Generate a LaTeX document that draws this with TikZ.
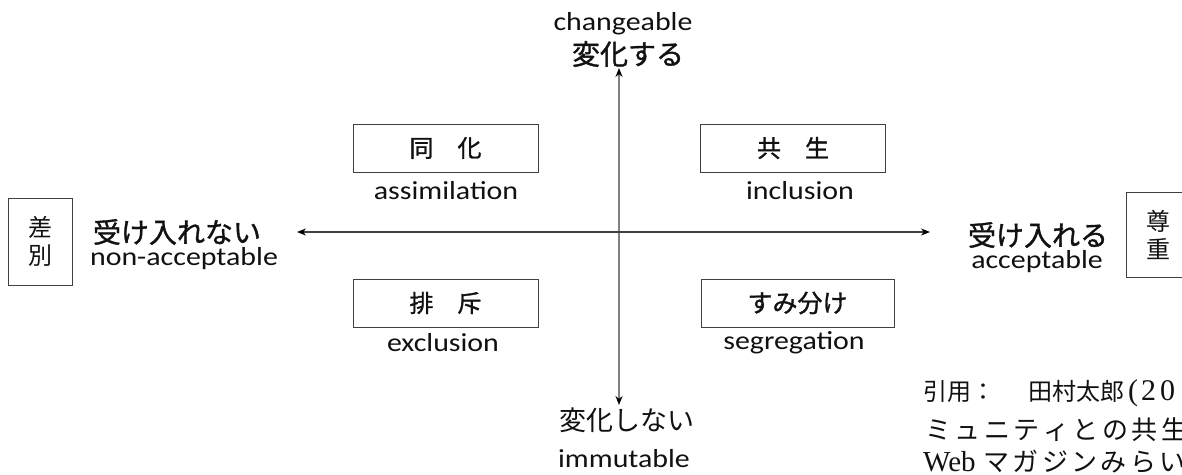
\documentclass[tikz,border=0pt]{standalone}
\usepackage{fontspec}
\usepackage{graphicx}
\usetikzlibrary{arrows.meta}
\setmainfont{Carlito}
\newfontfamily\jp{Noto Sans CJK JP}
\newfontfamily\jpb[FakeBold=1.2]{Noto Sans CJK JP}
\newfontfamily\lser{Liberation Serif}
\definecolor{boxc}{HTML}{404040}
\definecolor{vaxis}{HTML}{808080}
\definecolor{haxis}{HTML}{404040}
\definecolor{txt}{HTML}{111111}
\newcommand\lat[1]{\scalebox{1.15}[1]{\fontsize{26}{28}\selectfont #1}}
\begin{document}
\begin{tikzpicture}[x=1pt,y=-1pt,
  qbox/.style={draw=boxc, line width=1pt, minimum height=48pt, inner sep=0pt, text=txt, font=\jpb\fontsize{24}{24}\selectfont},
  sidebox/.style={draw=boxc, line width=1pt, inner sep=0pt, align=center, text=txt, font=\jp\fontsize{24}{28}\selectfont},
  lbl/.style={inner sep=0pt, text=txt},
  jhead/.style={inner sep=0pt, text=txt, font=\jpb\fontsize{28}{28}\selectfont},
  cite/.style={inner sep=0pt, anchor=west, text=txt, font=\jp\fontsize{24}{24}\selectfont},
  axisline/.style={line width=1.2pt, {Stealth[length=9pt,width=7pt,color=black]}-{Stealth[length=9pt,width=7pt,color=black]}}
]
\useasboundingbox (0,0) rectangle (1182,474);
\fill[white] (0,0) rectangle (1182,474);

% axes
\coordinate (vtop) at (619,68);
\coordinate (vbot) at (619,405);
\coordinate (hleft) at (297,232);
\coordinate (hright) at (930,232);
\draw[axisline, draw=vaxis] (vbot) -- (vtop);
\draw[axisline, draw=haxis] (hleft) -- (hright);

% top / bottom labels
\node[lbl] (chg) at (623,24) {\lat{changeable}};
\node[jhead] (henka) at (628,54) {変化する};
\node[lbl, font=\jp\fontsize{27}{27}\selectfont] (henkanai) at (627,420) {変化しない};
\node[lbl] (immut) at (624,459) {\lat{immutable}};

% left / right labels
\node[jhead] (ukenai) at (177,232) {受け入れない};
\node[lbl] (nonacc) at (184,259) {\lat{non-acceptable}};
\node[jhead] (ukeru) at (1038,235) {受け入れる};
\node[lbl] (acc) at (1037,262) {\lat{acceptable}};

% side boxes
\node[sidebox, minimum width=64pt, minimum height=87pt] (sabetsu) at (40,241.5) {差\\別};
\node[sidebox, minimum width=64pt, minimum height=85pt] (sonchou) at (1158,234.5) {尊\\重};

% quadrant boxes
\node[qbox, minimum width=185pt] (douka) at (445.5,148) {同　化};
\node[lbl] (assim) at (446,191) {\lat{assimilation}};
\node[qbox, minimum width=185pt] (kyousei) at (793,148) {共　生};
\node[lbl] (incl) at (800,191) {\lat{inclusion}};
\node[qbox, minimum width=185pt] (haiseki) at (445.5,303) {排　斥};
\node[lbl] (excl) at (443,343) {\lat{exclusion}};
\node[qbox, minimum width=193pt, font=\jpb\fontsize{25}{25}\selectfont] (sumiwake) at (797.5,303) {すみ分け};
\node[lbl] (segr) at (794,343) {\lat{segregation}};

% citation (cut off at the right edge, as in the reference)
\node[cite] (cite1) at (923,393) {\makebox[105pt][l]{引用：}田村太郎\hspace{4pt}{\lser\fontsize{30}{30}\selectfont (\hspace{3pt}2\hspace{4pt}0}};
\node[cite, font=\jp\fontsize{26}{26}\selectfont] (cite2) at (925,430) {ミ\hspace{3.5pt}ュ\hspace{3.5pt}ニ\hspace{3.5pt}テ\hspace{3.5pt}ィ\hspace{3.5pt}と\hspace{3.5pt}の\hspace{3.5pt}共\hspace{3.5pt}生};
\node[cite, font=\jp\fontsize{26}{26}\selectfont] (cite3) at (923,462) {{\lser\fontsize{29}{29}\selectfont Web}\hspace{8pt}マ\hspace{3.3pt}ガ\hspace{3.3pt}ジ\hspace{3.3pt}ン\hspace{3.3pt}み\hspace{3.3pt}ら\hspace{3.3pt}い};
\end{tikzpicture}
\end{document}
